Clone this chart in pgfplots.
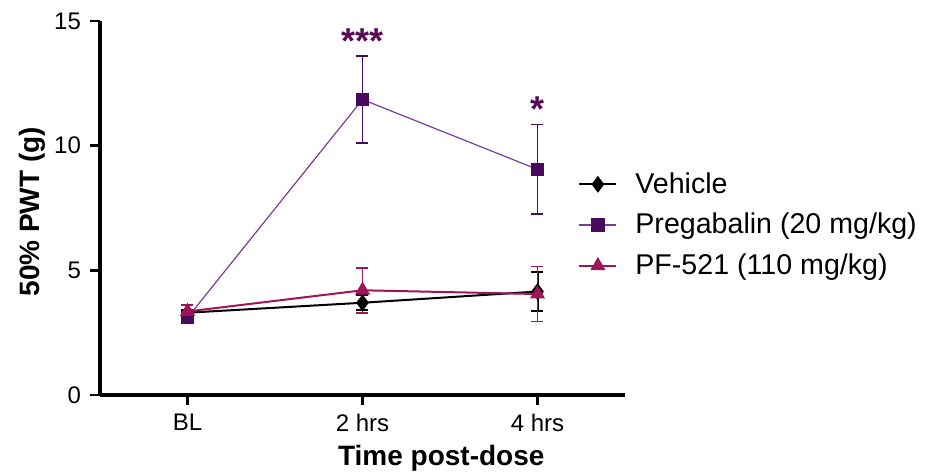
\documentclass[border=0pt]{standalone}
\usepackage{pgfplots}
\pgfplotsset{compat=1.18}
\usepackage{fontspec}
\setmainfont{Liberation Sans}
\definecolor{vehc}{HTML}{000000}
\definecolor{pregm}{HTML}{4A0A5E}
\definecolor{pregl}{HTML}{7A3C98}
\definecolor{pfc}{HTML}{A0145A}
\definecolor{starc}{HTML}{5A0A55}

\pgfplotstableread{
x y e
0 3.30 0.12
1 3.70 0.30
2 4.15 0.80
}\vehicle
\pgfplotstableread{
x y e
0 3.10 0.15
1 11.85 1.75
2 9.05 1.80
}\pregabalin
\pgfplotstableread{
x y e
0 3.35 0.25
1 4.20 0.90
2 4.05 1.10
}\pfdata

\begin{document}
\begin{tikzpicture}
\begin{axis}[
  name=ax,
  scale only axis,
  width=262.5pt, height=187pt,
  xmin=-0.5, xmax=2.5,
  ymin=0, ymax=15,
  axis x line=bottom, axis y line=left,
  axis line style={-, line width=1.7pt},
  xtick={0,1,2},
  xticklabels={BL, 2 hrs, 4 hrs},
  ytick={0,5,10,15},
  tick align=outside,
  major tick length=5pt,
  tick style={line width=1.4pt, black},
  /pgf/number format/assume math mode=true,
  ticklabel style={font=\fontsize{12}{14}\selectfont},
  xticklabel style={yshift=-1pt},
  yticklabel style={xshift=-1pt},
  xlabel={\textbf{Time post-dose}},
  ylabel={\textbf{50\% PWT (g)}},
  label style={font=\fontsize{14}{16}\selectfont},
  xlabel style={at={(axis description cs:0.65,-0.168)}, anchor=center},
  ylabel style={at={(axis description cs:-0.128,0.49)}, anchor=center, rotate=0},
  legend style={at={(axis description cs:0.9105,0.4545)}, anchor=west, draw=none, fill=none,
    inner sep=0pt, font=\fontsize{14.3}{16}\selectfont, row sep=4.5pt,
    /tikz/every odd column/.append style={column sep=7pt}},
  legend cell align=left,
  legend image code/.code={\draw[mark repeat=2,mark phase=2] plot coordinates {(0pt,0pt) (9.25pt,0pt) (18.5pt,0pt)};},
  clip=false,
]
\addplot[vehc, line width=1pt, mark=diamond*, mark size=3.4pt, mark options={solid},
  error bars/.cd, y dir=both, y explicit, error bar style={line width=1pt, vehc},
  error mark options={rotate=90, mark size=3pt, line width=1pt, vehc}]
  table[x=x, y=y, y error=e] {\vehicle};
\addlegendentry{Vehicle}
\addplot[pregl, line width=0.6pt, mark=square*, mark size=3pt, mark options={pregm, fill=pregm, solid},
  error bars/.cd, y dir=both, y explicit, error bar style={line width=0.9pt, pregm},
  error mark options={rotate=90, mark size=3pt, line width=0.9pt, pregm}]
  table[x=x, y=y, y error=e] {\pregabalin};
\addlegendentry{Pregabalin (20 mg/kg)}
\addplot[pfc, line width=1pt, mark=triangle*, mark size=3.4pt, mark options={solid},
  error bars/.cd, y dir=both, y explicit, error bar style={line width=0.9pt, pfc},
  error mark options={rotate=90, mark size=3pt, line width=0.9pt, pfc}]
  table[x=x, y=y, y error=e] {\pfdata};
\addlegendentry{PF-521 (110 mg/kg)}
\node[starc, font=\fontsize{18}{18}\selectfont\bfseries] at (axis cs:1,14.2) {***};
\node[starc, font=\fontsize{18}{18}\selectfont\bfseries] at (axis cs:2,11.45) {*};
\end{axis}
\pgfresetboundingbox
\path[use as bounding box] ([shift={(-50pt,-38.5pt)}]ax.south west) rectangle ([shift={(419.5pt,197.5pt)}]ax.south west);
\end{tikzpicture}
\end{document}
